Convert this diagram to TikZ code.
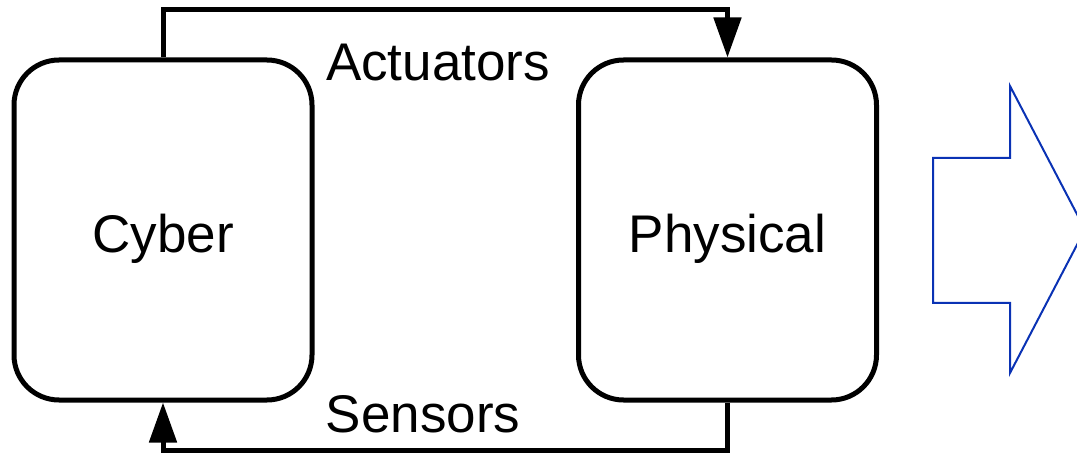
\documentclass[tikz,border=0pt]{standalone}
\usepackage{fontspec}
\setmainfont{Liberation Sans}
\usetikzlibrary{arrows.meta, positioning, calc}
\definecolor{flowblue}{RGB}{10,50,180}

\begin{document}
\begin{tikzpicture}[x=1pt, y=1pt,
    block/.style={draw, line width=5pt, rounded corners=45pt, inner sep=0pt,
                  minimum width=298pt, minimum height=340pt,
                  text height=46pt, text depth=0pt,
                  font=\fontsize{53}{60}\selectfont},
    link/.style={line width=5pt, -{Triangle[length=40pt, width=27pt]}},
    tag/.style={anchor=base, inner sep=0pt, font=\fontsize{53}{60}\selectfont}]
  \useasboundingbox (0,0) rectangle (1077,453);
  \clip (0,0) rectangle (1077,453);
  % The two halves of the loop
  \node[block] (cyber) at (163,223) {Cyber};
  \node[block] (physical) at (727.5,223) {Physical};
  % Actuators on top, sensors underneath
  \draw[link] (cyber.north) -- ++(0,48) -| (physical.north);
  \draw[link] (physical.south) -- ++(0,-48) -| (cyber.south);
  \node[tag] (act) at (438,372) {Actuators};
  \node[tag] (sens) at (423,21) {Sensors};
  % Block arrow leading off to the right
  \draw[flowblue, line width=2pt]
    (933,295) -- (1010,295) -- (1010,367) -- (1085,223.5)
    -- (1010,80) -- (1010,150) -- (933,150) -- cycle;
\end{tikzpicture}
\end{document}
